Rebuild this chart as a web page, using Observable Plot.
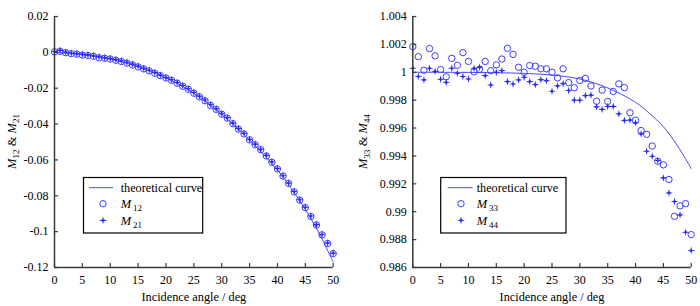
<!DOCTYPE html>
<html><head><meta charset="utf-8">
<script src="https://cdn.jsdelivr.net/npm/d3@7"></script>
<script src="https://cdn.jsdelivr.net/npm/@observablehq/plot@0.6"></script>
<style>
body{margin:0;background:#fff;}
#wrap{display:flex;width:700px;height:306px;overflow:hidden;}
#wrap svg{display:block;}
</style></head><body><div id="wrap"></div>
<script>
// ---- data ----
const angles = [0,1,2,3,4,5,6,7,8,9,10,11,12,13,14,15,16,17,18,19,20,21,22,23,24,25,26,27,28,29,30,31,32,33,34,35,36,37,38,39,40,41,42,43,44,45,46,47,48,49,50];
const m12 = [0.0003,0.0006,-0.0002,-0.0007,-0.0010,-0.0015,-0.0018,-0.0022,-0.0030,-0.0033,-0.0037,-0.0044,-0.0051,-0.0060,-0.0070,-0.0081,-0.0092,-0.0103,-0.0117,-0.0130,-0.0143,-0.0156,-0.0172,-0.0189,-0.0206,-0.0228,-0.0248,-0.0270,-0.0296,-0.0318,-0.0345,-0.0367,-0.0398,-0.0428,-0.0455,-0.0488,-0.0515,-0.0543,-0.0578,-0.0613,-0.0650,-0.0690,-0.0731,-0.0778,-0.0824,-0.0866,-0.0915,-0.0963,-0.1018,-0.1066,-0.1122];
const m21 = [0.0005,0.0011,0.0001,-0.0004,-0.0007,-0.0011,-0.0014,-0.0019,-0.0025,-0.0030,-0.0034,-0.0040,-0.0047,-0.0055,-0.0066,-0.0077,-0.0089,-0.0100,-0.0113,-0.0127,-0.0141,-0.0153,-0.0168,-0.0185,-0.0203,-0.0224,-0.0245,-0.0266,-0.0292,-0.0315,-0.0342,-0.0364,-0.0395,-0.0425,-0.0452,-0.0486,-0.0512,-0.0541,-0.0575,-0.0611,-0.0648,-0.0688,-0.0729,-0.0776,-0.0822,-0.0864,-0.0913,-0.0961,-0.1016,-0.1064,-0.1120];
const theoryAngles = [0,5,10,15,20,25,30,35,40,42.5,45,47.5,50];
const theory1 = [0,-0.0013,-0.0038,-0.0080,-0.0142,-0.0228,-0.0346,-0.0489,-0.0656,-0.0760,-0.0876,-0.1010,-0.1170];
const m33 = [1.00184,1.00112,1.00015,1.00170,1.00118,1.00020,0.99968,1.00100,1.00050,1.00141,1.00078,1.00003,1.00022,1.00078,1.00011,1.00053,1.00095,1.00172,1.00128,1.00036,1.00000,1.00048,1.00043,1.00025,1.00025,1.00000,0.99960,1.00025,0.99926,0.99889,0.99941,0.99956,0.99902,0.99792,0.99872,0.99791,0.99862,0.99917,0.99890,0.99710,0.99656,0.99582,0.99555,0.99471,0.99362,0.99336,0.99231,0.98967,0.99042,0.99058,0.98836];
const m44 = [1.00029,0.99970,0.99945,1.00029,1.00007,0.99950,0.99928,1.00029,0.99993,0.99970,0.99952,1.00029,1.00036,0.99976,0.99909,1.00000,1.00012,0.99933,0.99916,0.99945,0.99964,0.99933,0.99912,0.99947,0.99940,0.99864,0.99903,0.99919,0.99869,0.99800,0.99800,0.99833,0.99836,0.99752,0.99734,0.99755,0.99755,0.99702,0.99655,0.99657,0.99637,0.99558,0.99434,0.99398,0.99367,0.99243,0.99135,0.99073,0.98977,0.98853,0.98722];
const theory2 = [1.00000,1.00000,0.99999,0.99997,0.99992,0.99980,0.99952,0.99888,0.99785,0.99705,0.99610,0.99475,0.99310];
const xTicks = [0,5,10,15,20,25,30,35,40,45,50];
const yTicks1 = [-0.12,-0.1,-0.08,-0.06,-0.04,-0.02,0,0.02];
const yTicks2 = [0.986,0.988,0.99,0.992,0.994,0.996,0.998,1,1.002,1.004];
const xLabel = "Incidence angle / deg";
const legendTheory = "theoretical curve";

// ---- styles ----
const FONT = "'Liberation Serif','Times New Roman',serif";
const LINE = "#4a4aff", CIRC = "#3d3dff", STAR = "#2a2af2", AXIS = "#3a3a3a";
const star4 = {draw(ctx, size){
  const R = Math.sqrt(size/Math.PI), r = R*0.3;
  for (let k=0;k<8;k++){ const a = k*Math.PI/4 - Math.PI/2, rad = k%2===0?R:r;
    const x = rad*Math.cos(a), y = rad*Math.sin(a); k?ctx.lineTo(x,y):ctx.moveTo(x,y);} ctx.closePath(); }};

function panel(o){
  const p1 = angles.map((a,i)=>({a, v:o.s1[i]}));
  const p2 = angles.map((a,i)=>({a, v:o.s2[i]}));
  const th = theoryAngles.map((a,i)=>({a, v:o.theory[i]}));
  const svg = Plot.plot({
    width: 350, height: 306,
    marginLeft: o.ml, marginRight: 350 - o.ml - o.pw, marginTop: 16, marginBottom: 39,
    style: {fontFamily: FONT, fontSize: "12px", color: "#000", background: "#fff"},
    x: {domain: [0,50]},
    y: {domain: o.yDomain},
    marks: [
      Plot.line(th, {x:"a", y:"v", stroke: LINE, strokeWidth: 1, curve: "catmull-rom"}),
      Plot.dot(p1, {x:"a", y:"v", r: 3.2, stroke: CIRC, strokeWidth: 1, fill: "none"}),
      Plot.dot(p2, {x:"a", y:"v", r: 3.9, symbol: star4, fill: STAR, stroke: "none"}),
      Plot.ruleX([0], {stroke: AXIS, strokeWidth: 1.5}),
      Plot.ruleY([o.yDomain[0]], {stroke: AXIS, strokeWidth: 1.5}),
      Plot.axisX({ticks: xTicks, tickSize: -4, tickPadding: 12, label: null, stroke: AXIS, strokeWidth: 1.2, fontSize: 12, tickFormat: d=>String(d)}),
      Plot.axisY({ticks: o.yTicks, tickSize: -4, tickPadding: 10, label: null, stroke: AXIS, strokeWidth: 1.2, fontSize: 12, tickFormat: o.fmt}),
      Plot.text([xLabel], {frameAnchor: "bottom", dy: 30, lineAnchor: "middle", fontSize: 12.3})
    ]
  });
  const s = d3.select(svg).attr("font-family", FONT).attr("font-size", 12);
  // y label with italic M and subscripts
  const cy = (16 + 267)/2;
  const yl = s.append("text").attr("transform", `translate(${o.ylx},${cy}) rotate(-90)`)
    .attr("text-anchor","middle").attr("font-size", 12.5).attr("fill","#000").attr("dy","0.32em");
  yl.append("tspan").attr("font-style","italic").text("M");
  yl.append("tspan").attr("font-size",9).attr("dy",3).text(o.sub1);
  yl.append("tspan").attr("dy",-3).text(" & ");
  yl.append("tspan").attr("font-style","italic").text("M");
  yl.append("tspan").attr("font-size",9).attr("dy",3).text(o.sub2);
  // legend
  const L = o.leg;
  const g = s.append("g").attr("text-anchor","start");
  g.append("rect").attr("x",L.x).attr("y",177.5).attr("width",L.w).attr("height",55.5)
    .attr("fill","#fff").attr("stroke","#000").attr("stroke-width",1.2);
  g.append("line").attr("x1",L.lx1).attr("x2",L.lx2).attr("y1",187.7).attr("y2",187.7).attr("stroke",LINE);
  g.append("text").attr("x",L.tx).attr("y",192).attr("font-size",12.2).text(legendTheory);
  g.append("circle").attr("cx",L.mx).attr("cy",203.7).attr("r",3.2).attr("fill","none").attr("stroke",CIRC);
  const t1 = g.append("text").attr("x",L.tx).attr("y",208).attr("font-size",12.5);
  t1.append("tspan").attr("font-style","italic").text("M");
  t1.append("tspan").attr("font-size",9).attr("dx",2).attr("dy",3).text(o.sub1);
  g.append("path").attr("transform",`translate(${L.mx},220.3)`).attr("d", d3.symbol(star4, Math.PI*3.9*3.9)()).attr("fill",STAR);
  const t2 = g.append("text").attr("x",L.tx).attr("y",224.7).attr("font-size",12.5);
  t2.append("tspan").attr("font-style","italic").text("M");
  t2.append("tspan").attr("font-size",9).attr("dx",2).attr("dy",3).text(o.sub2);
  return svg;
}

const wrap = document.getElementById("wrap");
wrap.appendChild(panel({
  s1: m12, s2: m21, theory: theory1, yDomain: [-0.12, 0.02], yTicks: yTicks1,
  fmt: d => String(+d.toFixed(2)), ml: 54, pw: 278.7, ylx: 12, sub1: "12", sub2: "21",
  leg: {x: 83.5, w: 119.2, lx1: 89, lx2: 113, tx: 120.7, mx: 103}
}));
wrap.appendChild(panel({
  s1: m33, s2: m44, theory: theory2, yDomain: [0.986, 1.004], yTicks: yTicks2,
  fmt: d => String(+d.toFixed(3)), ml: 62.3, pw: 278.4, ylx: 13, sub1: "33", sub2: "44",
  leg: {x: 90.7, w: 125.3, lx1: 97.7, lx2: 122.7, tx: 126.7, mx: 111}
}));
</script></body></html>
